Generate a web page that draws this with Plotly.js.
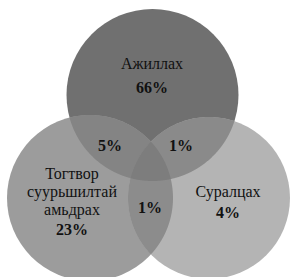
<!DOCTYPE html>
<html>
<head>
<meta charset="utf-8">
<script src="https://cdn.plot.ly/plotly-3.0.1.min.js"></script>
<style>html,body{margin:0;padding:0;background:#fff;}#chart{width:291px;height:277px;}</style>
</head>
<body>
<div id="chart"></div>
<script>
// ---- data ----
const setNames = ['Ажиллах', 'Тогтвор<br>суурьшилтай<br>амьдрах', 'Суралцах'];
const setOnly = [66, 23, 4];                 // only-in-set shares (%)
const pairNames = ['Ажиллах∩Тогтвор', 'Ажиллах∩Суралцах', 'Тогтвор∩Суралцах'];
const pairValues = [5, 1, 1];
const tripleValue = [1];

// ---- geometry (layout, pixel units) ----
const circles = [
  {cx: 152.5, cy: 95, r: 86},   // Ажиллах
  {cx: 90, cy: 198, r: 83},     // Тогтвор суурьшилтай амьдрах
  {cx: 209, cy: 198, r: 81}     // Суралцах
];
const pairs = [[0, 1], [0, 2], [1, 2]];
const setColors = ['#707070', '#9c9c9c', '#b4b4b4'];
const pairColors = ['#848484', '#8a8a8a', '#8c8c8c'];
const tripleColor = '#7d7d7d';
// x, first line y, line step, value y
const setLabelPos = [[152, 65, 0, 89], [72, 175, 18, 231], [228, 193, 0, 214]];
const pairLabelPos = [[110, 147], [181, 147], [150, 209]];
const tripleLabelPos = [150, 209];

function inside(p, c) {
  const dx = p[0] - c.cx, dy = p[1] - c.cy;
  return dx * dx + dy * dy <= c.r * c.r + 0.5;
}
function regionPath(ids) {
  const pts = [];
  const N = 1440;
  ids.forEach(i => {
    const c = circles[i];
    for (let k = 0; k < N; k++) {
      const t = 2 * Math.PI * k / N;
      const p = [c.cx + c.r * Math.cos(t), c.cy + c.r * Math.sin(t)];
      if (ids.every(j => j === i || inside(p, circles[j]))) pts.push(p);
    }
  });
  let mx = 0, my = 0;
  pts.forEach(p => { mx += p[0]; my += p[1]; });
  mx /= pts.length; my /= pts.length;
  pts.sort((a, b) => Math.atan2(a[1] - my, a[0] - mx) - Math.atan2(b[1] - my, b[0] - mx));
  return 'M' + pts.map(p => p[0].toFixed(2) + ',' + p[1].toFixed(2)).join('L') + 'Z';
}

const shapes = [];
circles.forEach((c, i) => shapes.push({
  type: 'circle', xref: 'x', yref: 'y',
  x0: c.cx - c.r, x1: c.cx + c.r, y0: c.cy - c.r, y1: c.cy + c.r,
  fillcolor: setColors[i], line: {width: 0}, layer: 'below'
}));
pairs.forEach((pr, i) => shapes.push({
  type: 'path', xref: 'x', yref: 'y', path: regionPath(pr),
  fillcolor: pairColors[i], line: {width: 0}, layer: 'below'
}));
shapes.push({
  type: 'path', xref: 'x', yref: 'y', path: regionPath([0, 1, 2]),
  fillcolor: tripleColor, line: {width: 0}, layer: 'below'
});

// label texts via a text scatter trace
const nameX = [], nameY = [], nameT = [];
const valX = [], valY = [], valT = [];
setNames.forEach((n, i) => {
  const p = setLabelPos[i];
  n.split('<br>').forEach((line, k) => { nameX.push(p[0]); nameY.push(p[1] + k * p[2]); nameT.push(line); });
  valX.push(p[0]); valY.push(p[3]); valT.push('<b>' + setOnly[i] + '%</b>');
});
pairValues.slice(0, 2).forEach((v, i) => {
  valX.push(pairLabelPos[i][0]); valY.push(pairLabelPos[i][1]); valT.push('<b>' + v + '%</b>');
});
valX.push(tripleLabelPos[0]); valY.push(tripleLabelPos[1]); valT.push('<b>' + tripleValue[0] + '%</b>');

const fam = 'Liberation Serif, Times New Roman, serif';
const traces = [
  {x: nameX, y: nameY, text: nameT, mode: 'text', type: 'scatter', textposition: 'middle center',
   textfont: {family: fam, size: 16, color: '#111'}, hoverinfo: 'skip', showlegend: false, cliponaxis: false},
  {x: valX, y: valY, text: valT, mode: 'text', type: 'scatter', textposition: 'middle center',
   textfont: {family: fam, size: 16, color: '#111'}, hoverinfo: 'skip', showlegend: false, cliponaxis: false}
];

Plotly.newPlot('chart', traces, {
  width: 291, height: 277,
  margin: {l: 0, r: 0, t: 0, b: 0},
  paper_bgcolor: '#fff', plot_bgcolor: '#fff',
  xaxis: {range: [0, 291], visible: false, fixedrange: true},
  yaxis: {range: [277, 0], visible: false, fixedrange: true},
  shapes: shapes, showlegend: false
}, {staticPlot: true, displayModeBar: false});
</script>
</body>
</html>
